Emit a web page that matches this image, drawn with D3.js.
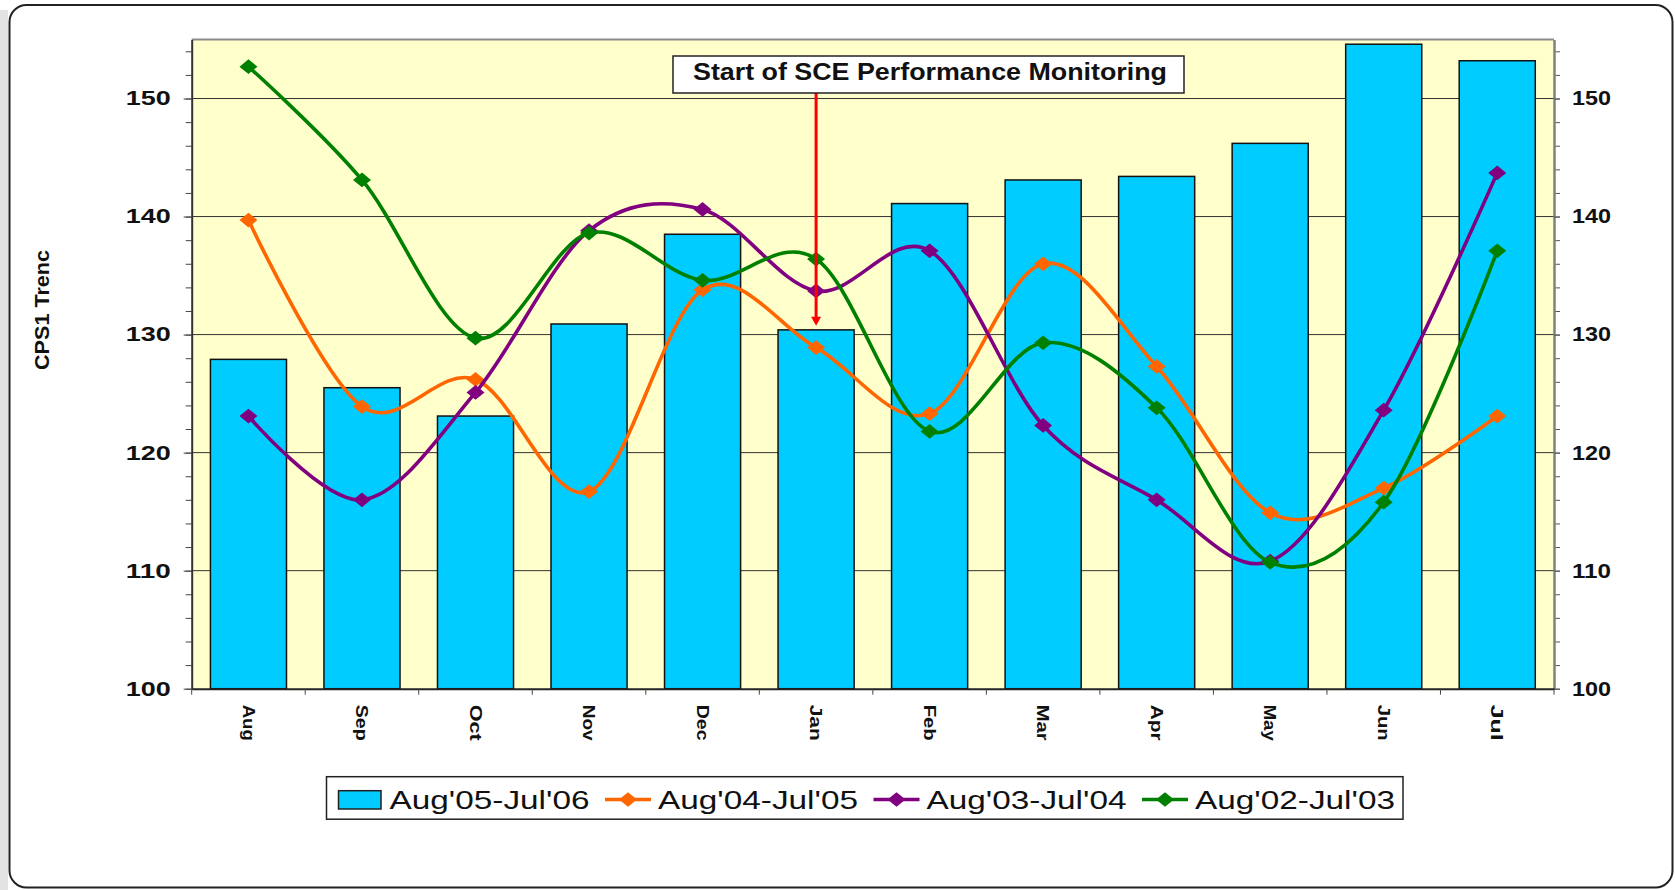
<!DOCTYPE html>
<html>
<head>
<meta charset="utf-8">
<script src="https://cdn.jsdelivr.net/npm/d3@7"></script>
<style>
body { margin: 0; background: #fff; }
text { font-family: "Liberation Sans", Arial, sans-serif; }
</style>
</head>
<body>
<div id="chart"></div>
<script>
// data
var months = ["Aug", "Sep", "Oct", "Nov", "Dec", "Jan", "Feb", "Mar", "Apr", "May", "Jun", "Jul"];
var fy06 = [127.9, 125.5, 123.1, 130.9, 138.5, 130.4, 141.1, 143.1, 143.4, 146.2, 154.6, 153.2];
var fy05 = [139.7, 123.9, 126.2, 116.7, 133.8, 128.9, 123.3, 136.0, 127.3, 114.9, 117.0, 123.1];
var fy04 = [123.1, 116.0, 125.1, 138.8, 140.6, 133.7, 137.1, 122.3, 116.0, 110.8, 123.6, 143.7];
var fy03 = [152.7, 143.1, 129.7, 138.6, 134.6, 136.4, 121.8, 129.3, 123.8, 110.7, 115.8, 137.1];
var seriesNames = ["Aug'05-Jul'06", "Aug'04-Jul'05", "Aug'03-Jul'04", "Aug'02-Jul'03"];
var majorTicks = [100, 110, 120, 130, 140, 150];
var minorTicks = d3.range(100, 156, 2);
var yTitle = "CPS1 Trenc";
var note = "Start of SCE Performance Monitoring";

var margin = {top: 39.5, right: 121, bottom: 201.3, left: 191.7},
    width = 1675 - margin.left - margin.right,
    height = 890 - margin.top - margin.bottom;

var svg = d3.select("#chart")
  .append("svg")
    .attr("width", 1675)
    .attr("height", 890);

// page edge + rounded frame
svg.append("rect")
    .attr("x", 0).attr("y", 10).attr("width", 8).attr("height", 880)
    .attr("fill", "#e3e3e3");
svg.append("rect")
    .attr("x", 9.5).attr("y", 5).attr("width", 1663).attr("height", 882.5)
    .attr("rx", 17)
    .attr("fill", "#fff").attr("stroke", "#222").attr("stroke-width", 2);

var g = svg.append("g")
    .attr("transform", "translate(" + margin.left + "," + margin.top + ")");

var x = d3.scaleBand()
    .domain(months)
    .range([0, width])
    .paddingInner(0.33)
    .paddingOuter(0.165);

var y = d3.scaleLinear()
    .domain([100, 155])
    .range([height, 0]);

// plot background
g.append("rect")
    .attr("width", width)
    .attr("height", height)
    .attr("fill", "#FFFFCC");

// gridlines
g.selectAll(".grid")
  .data(majorTicks.slice(1))
  .enter()
  .append("line")
    .attr("x1", 0).attr("x2", width)
    .attr("y1", function(d) { return y(d); })
    .attr("y2", function(d) { return y(d); })
    .attr("stroke", "#333")
    .attr("stroke-width", 1);

// bars
g.selectAll(".bar")
  .data(months)
  .enter()
  .append("rect")
    .attr("x", function(d) { return x(d); })
    .attr("y", function(d, i) { return y(fy06[i]); })
    .attr("width", x.bandwidth())
    .attr("height", function(d, i) { return height - y(fy06[i]); })
    .attr("fill", "#00CCFF")
    .attr("stroke", "#111")
    .attr("stroke-width", 1.5);

// top edge of plot area
g.append("line")
    .attr("x1", 0).attr("x2", width).attr("y1", 0).attr("y2", 0)
    .attr("stroke", "#8c8c8c").attr("stroke-width", 2);

// left axis: minor then major ticks
g.append("g")
    .call(d3.axisLeft(y).tickValues(minorTicks).tickSize(6).tickSizeOuter(0).tickFormat(""))
    .call(function(a) { a.select(".domain").remove(); })
    .selectAll("line").attr("stroke", "#444");

var yl = g.append("g")
    .call(d3.axisLeft(y).tickValues(majorTicks).tickSize(8).tickSizeOuter(0).tickPadding(13));
yl.select(".domain").attr("stroke", "#333").attr("stroke-width", 2);
yl.selectAll("line").attr("stroke", "#444");
yl.selectAll("text")
    .attr("fill", "#111")
    .style("font-size", "20px")
    .style("font-weight", "bold")
    .attr("textLength", 45)
    .attr("lengthAdjust", "spacingAndGlyphs");

// right axis
g.append("g")
    .attr("transform", "translate(" + width + ",0)")
    .call(d3.axisRight(y).tickValues(minorTicks).tickSize(6).tickSizeOuter(0).tickFormat(""))
    .call(function(a) { a.select(".domain").remove(); })
    .selectAll("line").attr("stroke", "#555");

var yr = g.append("g")
    .attr("transform", "translate(" + width + ",0)")
    .call(d3.axisRight(y).tickValues(majorTicks).tickSize(6).tickSizeOuter(0).tickPadding(12));
yr.select(".domain").attr("stroke", "#808080").attr("stroke-width", 2.5);
yr.selectAll("line").attr("stroke", "#555");
yr.selectAll("text")
    .attr("fill", "#111")
    .style("font-size", "20px")
    .style("font-weight", "bold")
    .attr("textLength", 39)
    .attr("lengthAdjust", "spacingAndGlyphs");

// x axis
var xa = g.append("g")
    .attr("transform", "translate(0," + height + ")")
    .call(d3.axisBottom(x).tickSize(0).tickSizeOuter(0));
xa.select(".domain").attr("stroke", "#222").attr("stroke-width", 2);
xa.selectAll("text")
    .attr("y", 0)
    .attr("x", 16)
    .attr("dy", "0.35em")
    .attr("transform", "rotate(90)")
    .style("text-anchor", "start")
    .style("font-size", "17px")
    .style("font-weight", "bold")
    .attr("fill", "#111")
    .attr("textLength", 36)
    .attr("lengthAdjust", "spacingAndGlyphs");

// category boundary ticks
var bounds = months.map(function(d) { return x(d) - x.step() * x.paddingInner() / 2; }).concat([width]);
xa.selectAll(".btick")
  .data(bounds)
  .enter()
  .append("line")
    .attr("x1", function(d) { return d; })
    .attr("x2", function(d) { return d; })
    .attr("y1", 0).attr("y2", 6)
    .attr("stroke", "#444");

// y title
svg.append("text")
    .attr("transform", "translate(49,310) rotate(-90)")
    .style("text-anchor", "middle")
    .style("font-size", "21px")
    .style("font-weight", "bold")
    .attr("fill", "#111")
    .attr("textLength", 120)
    .attr("lengthAdjust", "spacingAndGlyphs")
    .text(yTitle);

// smoothed lines with diamond markers
var diamond = {
  draw: function(ctx, size) {
    var w = Math.sqrt(size) * 0.62, h = w * 0.82;
    ctx.moveTo(0, -h); ctx.lineTo(w, 0); ctx.lineTo(0, h); ctx.lineTo(-w, 0); ctx.closePath();
  }
};
var marker = d3.symbol().type(diamond).size(210);

var lineSeries = [
  {name: seriesNames[1], values: fy05, color: "#FF6600"},
  {name: seriesNames[2], values: fy04, color: "#800080"},
  {name: seriesNames[3], values: fy03, color: "#008000"}
];

var line = d3.line()
    .x(function(d, i) { return x(months[i]) + x.bandwidth() / 2; })
    .y(function(d) { return y(d); })
    .curve(d3.curveCardinal.tension(0));

lineSeries.forEach(function(s) {
  g.append("path")
      .datum(s.values)
      .attr("d", line)
      .attr("fill", "none")
      .attr("stroke", s.color)
      .attr("stroke-width", 3.6);
  g.selectAll(null)
    .data(s.values)
    .enter()
    .append("path")
      .attr("d", marker)
      .attr("transform", function(d, i) {
        return "translate(" + (x(months[i]) + x.bandwidth() / 2) + "," + y(d) + ")";
      })
      .attr("fill", s.color);
});

// annotation box + arrow to Jan
var ax = x("Jan") + x.bandwidth() / 2,
    tip = y(fy06[5]) - 4;
g.append("line")
    .attr("x1", ax).attr("x2", ax)
    .attr("y1", 53.5).attr("y2", tip - 7)
    .attr("stroke", "#FF0000").attr("stroke-width", 3);
g.append("path")
    .attr("d", "M" + (ax - 5) + "," + (tip - 9) + "L" + (ax + 5) + "," + (tip - 9) + "L" + ax + "," + tip + "Z")
    .attr("fill", "#FF0000");
g.append("rect")
    .attr("x", 481.3).attr("y", 16.5)
    .attr("width", 511).attr("height", 37)
    .attr("fill", "#fff").attr("stroke", "#222").attr("stroke-width", 1.5);
g.append("text")
    .attr("x", 738.3).attr("y", 40.7)
    .style("text-anchor", "middle")
    .style("font-size", "24px")
    .style("font-weight", "bold")
    .attr("fill", "#111")
    .attr("textLength", 474)
    .attr("lengthAdjust", "spacingAndGlyphs")
    .text(note);

// legend
var legend = svg.append("g");
legend.append("rect")
    .attr("x", 326.5).attr("y", 776.7)
    .attr("width", 1076.5).attr("height", 42.5)
    .attr("fill", "#fff").attr("stroke", "#222").attr("stroke-width", 1.5);

var legendColors = ["#00CCFF", "#FF6600", "#800080", "#008000"];
seriesNames.forEach(function(name, i) {
  var tx = 389.5 + i * 268.5;
  if (i === 0) {
    legend.append("rect")
        .attr("x", tx - 51).attr("y", 790.7)
        .attr("width", 42.5).attr("height", 18.3)
        .attr("fill", legendColors[i]).attr("stroke", "#222").attr("stroke-width", 1.5);
  } else {
    legend.append("line")
        .attr("x1", tx - 53).attr("x2", tx - 7)
        .attr("y1", 799.5).attr("y2", 799.5)
        .attr("stroke", legendColors[i]).attr("stroke-width", 3.5);
    legend.append("path")
        .attr("d", marker)
        .attr("transform", "translate(" + (tx - 30) + ",799.5)")
        .attr("fill", legendColors[i]);
  }
  legend.append("text")
      .attr("x", tx).attr("y", 809)
      .style("font-size", "26px")
      .attr("fill", "#111")
      .attr("textLength", 200)
      .attr("lengthAdjust", "spacingAndGlyphs")
      .text(name);
});
</script>
</body>
</html>
